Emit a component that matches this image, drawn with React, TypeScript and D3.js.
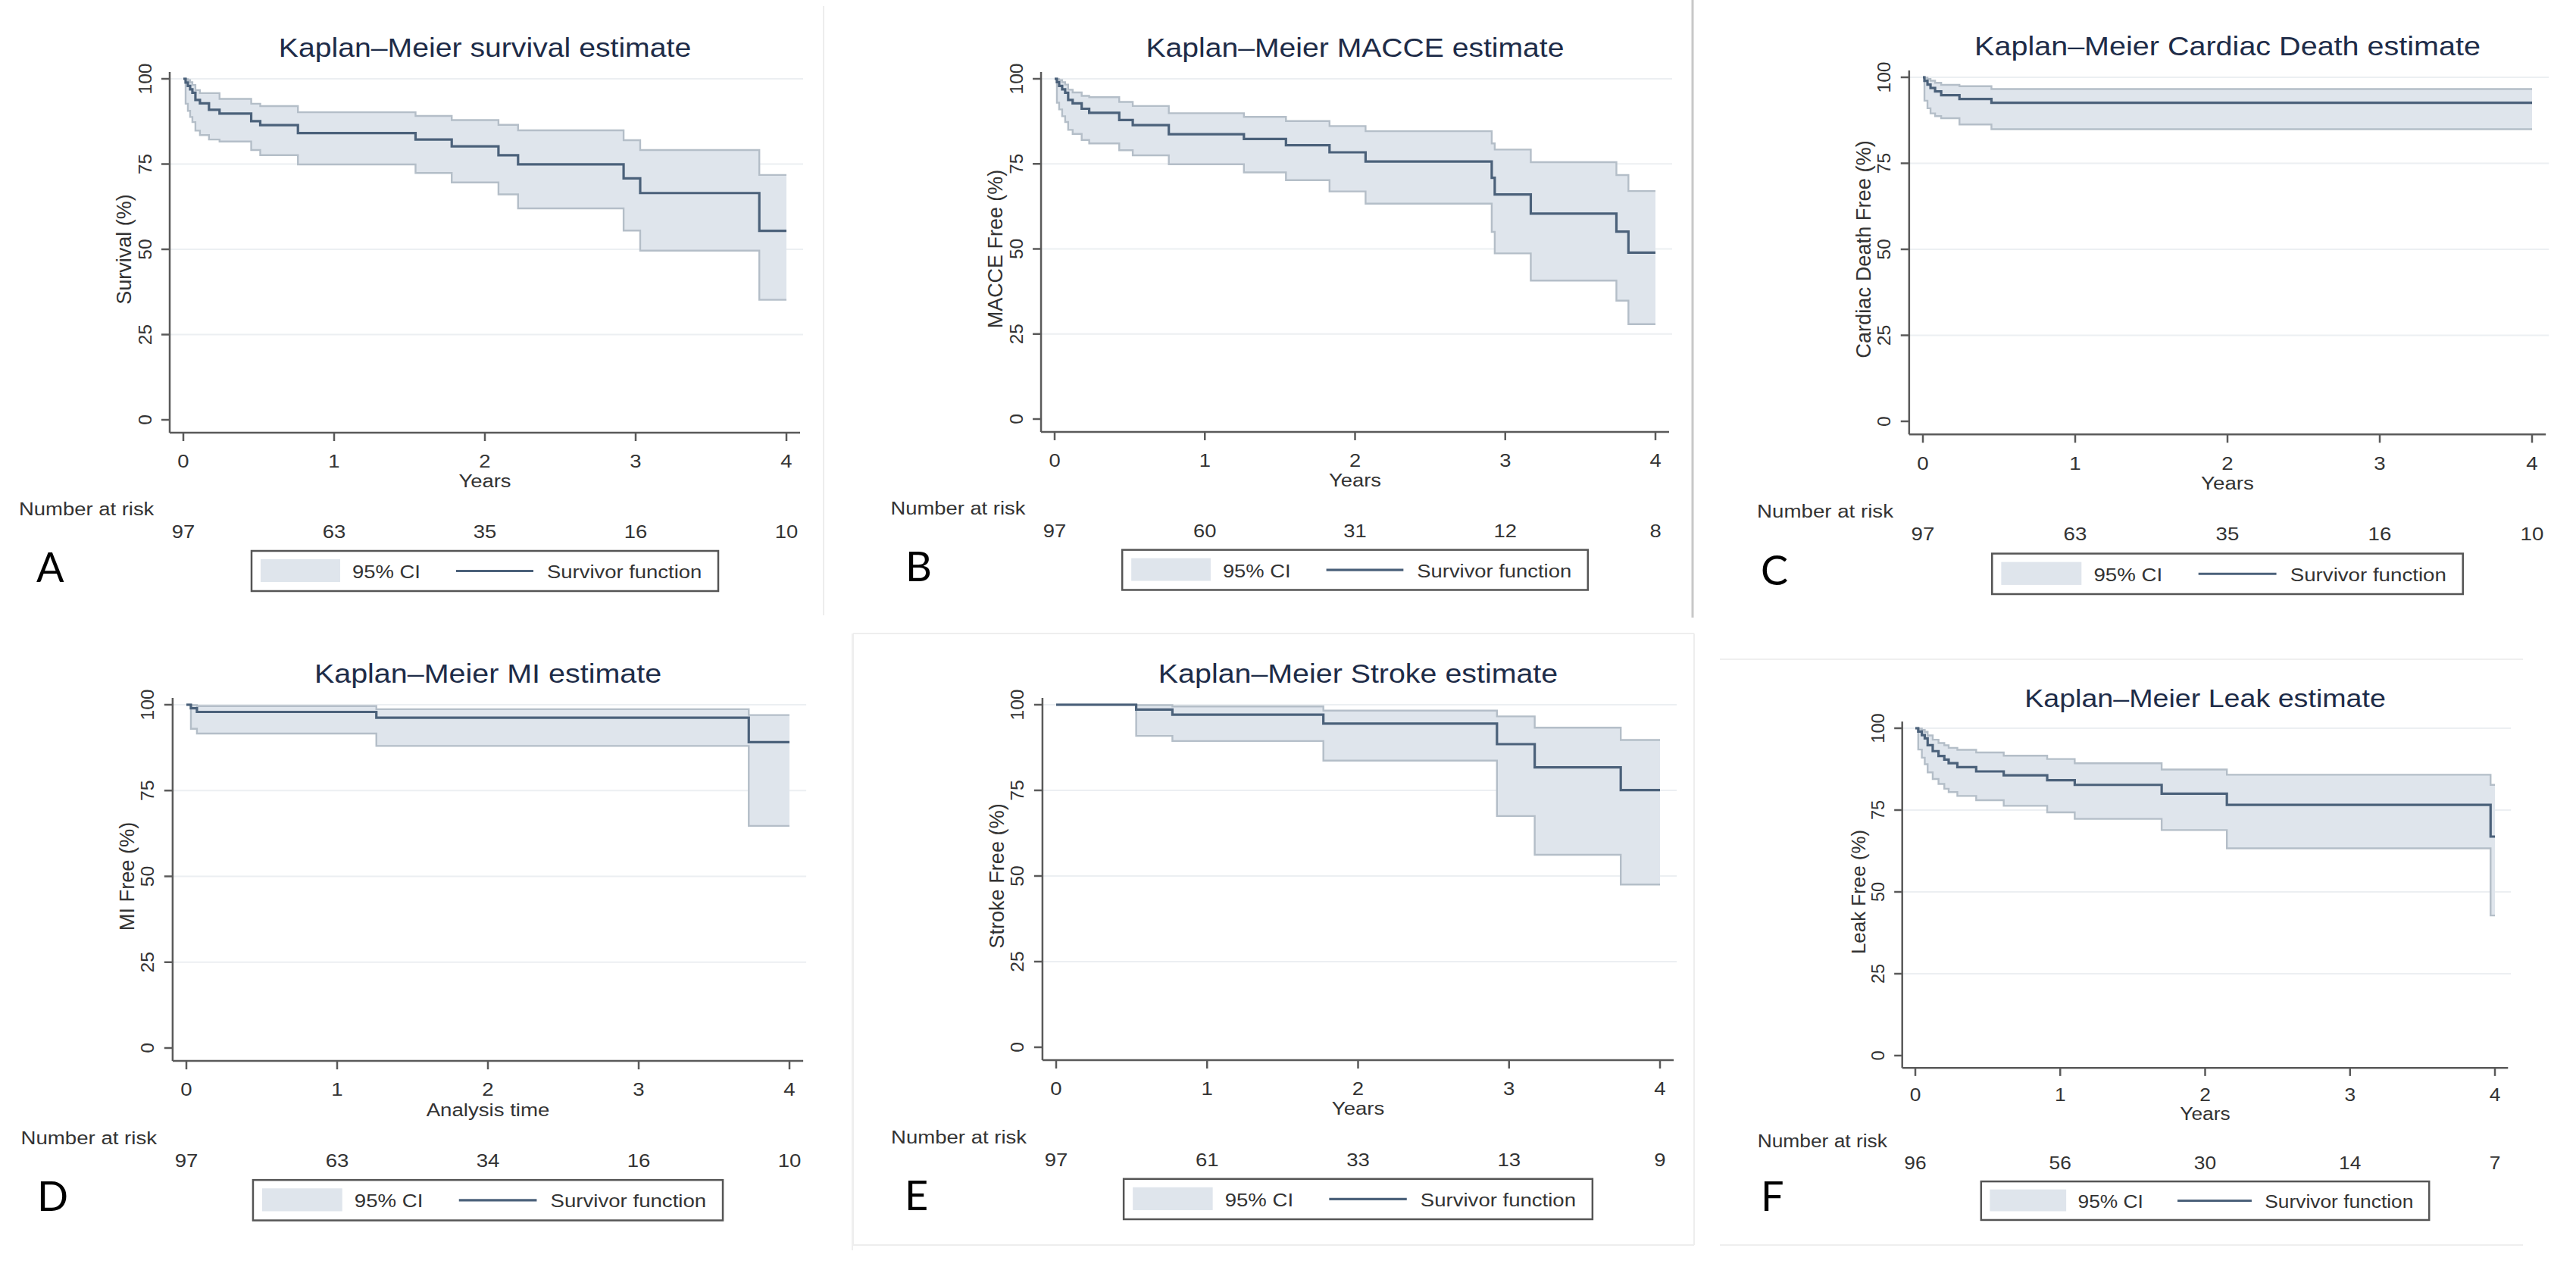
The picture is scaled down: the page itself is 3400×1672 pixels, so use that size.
import React from "react";
import * as d3 from "d3";

const W = 3400;
const H = 1672;
const FONT = "'Liberation Sans', Arial, Helvetica, sans-serif";
const LETTER_FONT = "Lato, 'Open Sans', sans-serif";
const SX = 1.12; // the figure is a bit wider than tall, so the text is too

// ---------- data ----------
const titles = [
  "Kaplan–Meier survival estimate",
  "Kaplan–Meier MACCE estimate",
  "Kaplan–Meier Cardiac Death estimate",
  "Kaplan–Meier MI estimate",
  "Kaplan–Meier Stroke estimate",
  "Kaplan–Meier Leak estimate",
];
const yTitles = ["Survival (%)", "MACCE Free (%)", "Cardiac Death Free (%)", "MI Free (%)", "Stroke Free (%)", "Leak Free (%)"];
const xTitles = ["Years", "Years", "Years", "Analysis time", "Years", "Years"];
const letters = ["A", "B", "C", "D", "E", "F"];
const xTicks = [0, 1, 2, 3, 4];
const yTicks = [0, 25, 50, 75, 100];
const gridTicks = [25, 50, 75, 100];
const legendLabels = ["95% CI", "Survivor function"];

const riskA = [97, 63, 35, 16, 10];
const riskB = [97, 60, 31, 12, 8];
const riskC = [97, 63, 35, 16, 10];
const riskD = [97, 63, 34, 16, 10];
const riskE = [97, 61, 33, 13, 9];
const riskF = [96, 56, 30, 14, 7];

const timeA = [0, 0.015, 0.03, 0.045, 0.06, 0.08, 0.11, 0.17, 0.24, 0.45, 0.51, 0.76, 1.54, 1.78, 2.09, 2.22, 2.92, 3.03, 3.82, 4];
const survA = [100, 98.9, 97.9, 96.9, 95.9, 93.8, 92.8, 90.9, 89.8, 87.6, 86.4, 84.1, 82.2, 80.2, 77.6, 74.9, 70.8, 66.5, 55.4, 55.4];
const loA = [100, 92.7, 90.6, 88.8, 87.3, 84.8, 83.5, 82.2, 81.6, 79.1, 77.6, 74.9, 72.4, 69.6, 66.1, 62.0, 55.5, 49.6, 35.2, 35.2];
const hiA = [100, 99.9, 99.6, 99.0, 98.2, 96.7, 95.8, 95.8, 94.1, 92.7, 92.0, 90.2, 89.1, 87.9, 86.5, 84.9, 82.0, 79.1, 71.8, 71.8];

const timeB = [0, 0.015, 0.03, 0.05, 0.07, 0.09, 0.12, 0.18, 0.23, 0.43, 0.52, 0.76, 1.26, 1.54, 1.83, 2.07, 2.91, 2.93, 3.17, 3.74, 3.82, 4];
const survB = [100, 99.0, 97.9, 96.9, 95.9, 93.8, 92.8, 91.2, 90.0, 87.9, 86.4, 83.7, 82.3, 80.5, 78.4, 75.7, 70.9, 66.0, 60.4, 55.1, 48.9, 48.9];
const loB = [100, 93.0, 91.0, 89.0, 87.3, 85.0, 83.8, 82.0, 81.0, 79.0, 77.5, 74.9, 72.5, 70.2, 66.9, 63.3, 55.0, 48.7, 40.7, 34.8, 27.9, 27.9];
const hiB = [100, 99.9, 99.6, 99.0, 98.3, 96.8, 96.0, 95.0, 94.6, 93.2, 92.0, 89.9, 88.8, 87.6, 86.1, 84.6, 81.0, 79.2, 75.5, 71.7, 67.0, 67.0];

const timeC = [0, 0.01, 0.03, 0.05, 0.08, 0.12, 0.24, 0.45, 4];
const survC = [100, 99.0, 97.9, 96.9, 95.9, 94.8, 93.7, 92.6, 92.6];
const loC = [100, 93.2, 91.0, 89.5, 88.7, 88.1, 86.3, 84.9, 84.9];
const hiC = [100, 99.9, 99.5, 99.0, 98.4, 97.8, 97.4, 96.6, 96.6];

const timeD = [0, 0.03, 0.07, 1.26, 3.73, 4];
const survD = [100, 99.0, 97.9, 96.2, 89.1, 89.1];
const loD = [100, 93.0, 91.6, 88.0, 64.7, 64.7];
const hiD = [100, 99.9, 99.6, 98.7, 97.0, 97.0];

const timeE = [0, 0.53, 0.77, 1.77, 2.92, 3.17, 3.74, 4];
const survE = [100, 98.6, 97.1, 94.5, 88.5, 81.7, 75.1, 75.1];
const loE = [100, 90.9, 89.4, 83.7, 67.5, 56.2, 47.5, 47.5];
const hiE = [100, 99.9, 99.5, 98.3, 96.6, 93.3, 89.7, 89.7];

const timeF = [0, 0.02, 0.045, 0.065, 0.085, 0.12, 0.16, 0.2, 0.23, 0.29, 0.42, 0.61, 0.91, 1.1, 1.7, 2.15, 3.97, 4];
const survF = [100, 99.0, 97.9, 96.9, 94.8, 93.0, 91.5, 90.4, 89.3, 88.1, 86.8, 85.6, 84.1, 82.7, 80.0, 76.6, 66.9, 66.9];
const loF = [100, 93.5, 91.0, 89.0, 86.5, 84.5, 83.0, 81.5, 80.5, 79.3, 78.0, 76.3, 74.3, 72.3, 68.9, 63.3, 42.8, 42.8];
const hiF = [100, 99.9, 99.5, 98.9, 97.8, 96.5, 95.5, 94.8, 94.0, 93.4, 92.6, 91.6, 90.6, 89.3, 87.4, 85.8, 82.7, 82.7];

const curves = [
  { time: timeA, surv: survA, lo: loA, hi: hiA, risk: riskA },
  { time: timeB, surv: survB, lo: loB, hi: hiB, risk: riskB },
  { time: timeC, surv: survC, lo: loC, hi: hiC, risk: riskC },
  { time: timeD, surv: survD, lo: loD, hi: hiD, risk: riskD },
  { time: timeE, surv: survE, lo: loE, hi: hiE, risk: riskE },
  { time: timeF, surv: survF, lo: loF, hi: hiF, risk: riskF },
];

// ---------- layout (pixel frame of each plot region) ----------
const layout = [
  { x0: 242, x4: 1038, y100: 104, y0: 554, letterX: 48 },
  { x0: 1392, x4: 2185, y100: 104, y0: 553, letterX: 1195 },
  { x0: 2538, x4: 3342, y100: 102, y0: 556, letterX: 2324 },
  { x0: 246, x4: 1042, y100: 930, y0: 1383, letterX: 49 },
  { x0: 1394, x4: 2191, y100: 930, y0: 1382, letterX: 1194 },
  { x0: 2528, x4: 3293, y100: 961, y0: 1393, letterX: 2324 },
];

// faint frames left over from the composed figure
const frames: [number, number, number, number, string, number][] = [
  [1087, 8, 1087, 812, "#ededed", 2],
  [2234, 0, 2234, 815, "#c8c8c8", 3],
  [1126, 836, 2236, 836, "#eeeeee", 2],
  [1126, 836, 1126, 1643, "#eeeeee", 2],
  [2236, 836, 2236, 1643, "#eeeeee", 2],
  [1126, 1643, 2236, 1643, "#eeeeee", 2],
  [1125, 836, 1125, 1650, "#efefef", 2],
  [2270, 870, 3330, 870, "#efefef", 2],
  [2270, 1643, 3330, 1643, "#efefef", 2],
];

const C = {
  ciFill: "#dfe5ec",
  ciLine: "#b4bec8",
  surv: "#4b617a",
  axis: "#5a5a5a",
  grid: "#eceff2",
  text: "#333333",
  title: "#1e2c48",
};

function HText(props: { x: number; y: number; size: number; anchor?: string; fill?: string; children: React.ReactNode }) {
  const { x, y, size, anchor = "middle", fill = C.text, children } = props;
  return (
    <text transform={`translate(${x},${y}) scale(${SX},1)`} fontSize={size} textAnchor={anchor} fill={fill} fontFamily={FONT}>
      {children}
    </text>
  );
}

function VText(props: { x: number; y: number; size: number; children: React.ReactNode }) {
  return (
    <text
      transform={`translate(${props.x},${props.y}) rotate(-90)`}
      fontSize={props.size}
      textAnchor="middle"
      dominantBaseline="central"
      fill={C.text}
      fontFamily={FONT}
    >
      {props.children}
    </text>
  );
}

type Pt = { t: number; s: number; lo: number; hi: number };

function Panel({ i }: { i: number }) {
  const g = layout[i];
  const d = curves[i];
  const k = (g.y0 - g.y100) / 450;
  const x = d3.scaleLinear().domain([0, 4]).range([g.x0, g.x4]);
  const y = d3.scaleLinear().domain([0, 100]).range([g.y0, g.y100]);
  const pts: Pt[] = d.time.map((t, j) => ({ t, s: d.surv[j], lo: d.lo[j], hi: d.hi[j] }));

  const band = d3
    .area<Pt>()
    .x((p) => x(p.t))
    .y0((p) => y(p.lo))
    .y1((p) => y(p.hi))
    .curve(d3.curveStepAfter);
  const lineOf = (f: (p: Pt) => number) =>
    d3
      .line<Pt>()
      .x((p) => x(p.t))
      .y((p) => y(f(p)))
      .curve(d3.curveStepAfter)(pts) || "";

  const axisX = g.x0 - 18 * k;
  const axisY = g.y0 + 17 * k;
  const cx = (g.x0 + g.x4) / 2;
  const cy = (g.y0 + g.y100) / 2;
  const fs = 24.5 * k;

  const legW = 616 * k;
  const legH = 53 * k;
  const legL = cx - legW / 2;
  const legT = g.y0 + 173 * k;

  return (
    <g>
      {gridTicks.map((v) => (
        <line key={v} x1={axisX} x2={g.x4 + 22 * k} y1={y(v)} y2={y(v)} stroke={C.grid} strokeWidth={2} />
      ))}
      <path d={band(pts) || ""} fill={C.ciFill} />
      <path d={lineOf((p) => p.hi)} fill="none" stroke={C.ciLine} strokeWidth={2.4} />
      <path d={lineOf((p) => p.lo)} fill="none" stroke={C.ciLine} strokeWidth={2.4} />
      <path d={lineOf((p) => p.s)} fill="none" stroke={C.surv} strokeWidth={3.2} />

      {/* axes */}
      <line x1={axisX} x2={axisX} y1={g.y100 - 9 * k} y2={axisY} stroke={C.axis} strokeWidth={2.5} />
      <line x1={axisX} x2={g.x4 + 18 * k} y1={axisY} y2={axisY} stroke={C.axis} strokeWidth={2.5} />
      {yTicks.map((v) => (
        <g key={v}>
          <line x1={axisX - 11 * k} x2={axisX} y1={y(v)} y2={y(v)} stroke={C.axis} strokeWidth={2.5} />
          <VText x={axisX - 33 * k} y={y(v)} size={fs}>
            {v}
          </VText>
        </g>
      ))}
      {xTicks.map((v) => (
        <g key={v}>
          <line x1={x(v)} x2={x(v)} y1={axisY} y2={axisY + 11 * k} stroke={C.axis} strokeWidth={2.5} />
          <HText x={x(v)} y={g.y0 + 63 * k} size={fs}>
            {v}
          </HText>
        </g>
      ))}
      <VText x={axisX - 60 * k} y={cy} size={27 * k}>
        {yTitles[i]}
      </VText>
      <HText x={cx} y={g.y0 + 89 * k} size={fs}>
        {xTitles[i]}
      </HText>
      <HText x={cx} y={g.y100 - 29 * k} size={35 * k} fill={C.title}>
        {titles[i]}
      </HText>

      {/* number at risk */}
      <HText x={g.x0 - 217 * k} y={g.y0 + 126 * k} size={fs} anchor="start">
        Number at risk
      </HText>
      {xTicks.map((v, j) => (
        <HText key={v} x={x(v)} y={g.y0 + 156 * k} size={fs}>
          {d.risk[j]}
        </HText>
      ))}

      {/* legend */}
      <rect x={legL} y={legT} width={legW} height={legH} fill="#fff" stroke="#555" strokeWidth={2.5} />
      <rect x={legL + 12 * k} y={legT + 11 * k} width={105 * k} height={30 * k} fill={C.ciFill} />
      <HText x={legL + 133 * k} y={legT + 36 * k} size={fs} anchor="start">
        {legendLabels[0]}
      </HText>
      <line x1={legL + 270 * k} x2={legL + 372 * k} y1={legT + 26.5 * k} y2={legT + 26.5 * k} stroke={C.surv} strokeWidth={3.2} />
      <HText x={legL + 390 * k} y={legT + 36 * k} size={fs} anchor="start">
        {legendLabels[1]}
      </HText>

      <text x={g.letterX} y={legT + 41 * k} fontSize={54} fontFamily={LETTER_FONT} fill="#000">
        {letters[i]}
      </text>
    </g>
  );
}

export default function App() {
  return (
    <svg
      width={W}
      height={H}
      viewBox={`0 0 ${W} ${H}`}
      style={{ position: "absolute", left: 0, top: 0, background: "#fff", display: "block" }}
    >
      <rect width={W} height={H} fill="#fff" />
      {frames.map((f, j) => (
        <line key={j} x1={f[0]} y1={f[1]} x2={f[2]} y2={f[3]} stroke={f[4]} strokeWidth={f[5]} />
      ))}
      {layout.map((_, i) => (
        <Panel key={i} i={i} />
      ))}
    </svg>
  );
}
